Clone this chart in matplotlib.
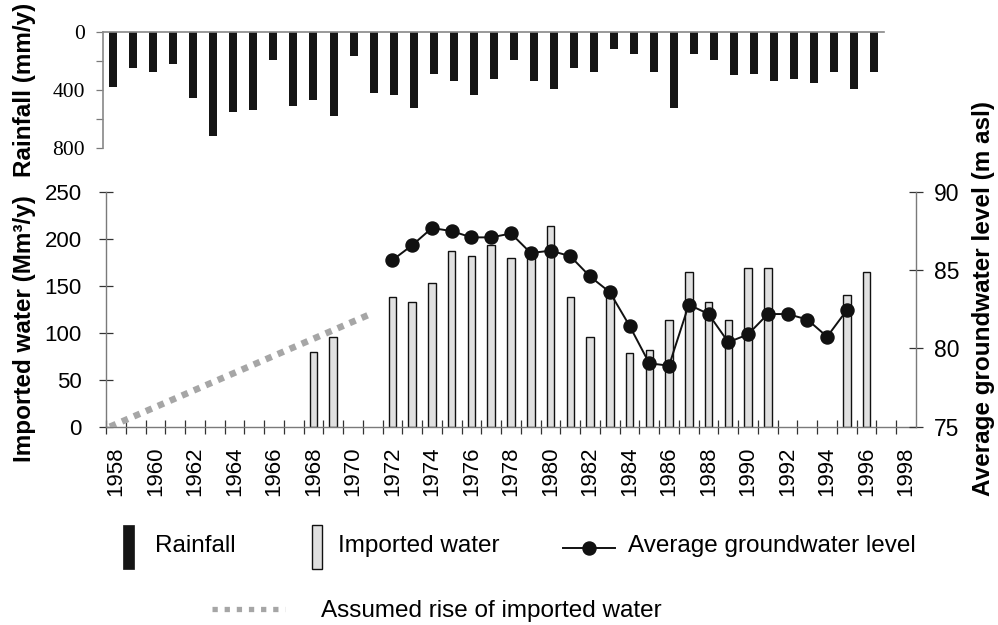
import matplotlib
matplotlib.use("Agg")
import matplotlib.pyplot as plt
from matplotlib.patches import Rectangle
from matplotlib.lines import Line2D
from matplotlib.container import BarContainer
from matplotlib.font_manager import FontProperties

# ---------------- data ----------------
rain_years = list(range(1958, 1997))
rainfall = [379, 248, 276, 221, 455, 717, 552, 538, 193, 510,
            469, 579, 166, 421, 434, 524, 290, 338, 434, 324,
            193, 338, 393, 248, 276, 117, 152, 276, 524, 152,
            193, 297, 290, 338, 324, 352, 276, 393, 276]

import_years = [1968, 1969, 1972, 1973, 1974, 1975, 1976, 1977, 1978, 1979,
                1980, 1981, 1982, 1983, 1984, 1985, 1986, 1987, 1988, 1989,
                1990, 1991, 1995, 1996]
imported = [80, 96, 138.5, 132.5, 153, 187.5, 181.5, 194, 179.5, 190,
            214, 138.5, 96, 140, 78, 81.5, 114, 165, 132.5, 114,
            169, 169, 140.5, 165]

gw_years = list(range(1972, 1996))
gw_level = [85.65, 86.6, 87.7, 87.5, 87.1, 87.1, 87.35, 86.1, 86.25, 85.9,
            84.6, 83.6, 81.45, 79.05, 78.9, 82.8, 82.2, 80.4, 80.9, 82.2,
            82.2, 81.85, 80.75, 82.45]

assumed_years = [1957.7, 1971.0]
assumed_values = [0, 121]

xtick_years = list(range(1958, 1999, 2))
imp_ticks = [0, 50, 100, 150, 200, 250]
gw_ticks = [75, 80, 85, 90]
rain_ticks = [0, 200, 400, 600, 800]
rain_ticklabels = ["0", "", "400", "", "800"]

# ---------------- style ----------------
W, H = 998, 625
SANS = "Liberation Sans"
SERIF = "Liberation Serif"
SPINE = "#7a7a7a"
TICK = "#333333"

plt.rcParams["font.family"] = [SANS, "DejaVu Sans"]

fig = plt.figure(figsize=(W / 100, H / 100), dpi=100)

def fx(px):
    return px / W

def fy(py):
    return 1 - py / H

# ---------------- lower axes ----------------
ax = fig.add_axes([fx(106), fy(426.7), fx(916) - fx(106), fy(192) - fy(426.7)])
imp_bars = ax.bar(import_years, imported, width=0.38, color="#e0e0e0",
                  edgecolor="#111111", linewidth=1.0, zorder=2)
assumed_line, = ax.plot(assumed_years, assumed_values, color="#a6a6a6", lw=4.7,
                        linestyle=(0, (1, 1)), dash_capstyle="butt",
                        solid_capstyle="butt", zorder=3)
ax.set_xlim(1957.5, 1998.5)
ax.set_ylim(0, 250)
ax.set_yticks(imp_ticks)
for s in ["top", "right"]:
    ax.spines[s].set_visible(False)
for s in ["left", "bottom"]:
    ax.spines[s].set_color(SPINE)
    ax.spines[s].set_linewidth(1.0)
ax.set_xticks(xtick_years)
ax.set_xticklabels([str(y) for y in xtick_years], rotation=90)
ax.set_xticks([y + 0.5 for y in range(1957, 1998)], minor=True)
ax.patch.set_alpha(0)

ax2 = ax.twinx()
gw_line, = ax2.plot(gw_years, gw_level, color="#111111", lw=1.4, marker="o",
                    markersize=9.4, markerfacecolor="#111111",
                    markeredgecolor="#111111", zorder=4)
ax2.set_ylim(75, 90)
ax2.set_yticks(gw_ticks)
for s in ["top", "left", "bottom"]:
    ax2.spines[s].set_visible(False)
ax2.spines["right"].set_color(SPINE)
ax2.spines["right"].set_linewidth(1.0)

# tick styling after twinning
ax.tick_params(axis="y", direction="inout", length=10, width=0.9, color=TICK,
               pad=12.3, labelsize=16, labelfontfamily=SANS)
ax.tick_params(axis="x", which="major", length=0, pad=14.4, labelsize=16,
               labelfontfamily=SANS)
ax.tick_params(axis="x", which="minor", direction="inout", length=10,
               width=0.9, color=TICK)
ax2.tick_params(axis="y", direction="inout", length=10, width=0.9, color=TICK,
                pad=8, labelsize=16.5, labelfontfamily=SANS)

# ---------------- top (rainfall) axes ----------------
axr = fig.add_axes([fx(103.3), fy(147.7), fx(884) - fx(103.3), fy(31.7) - fy(147.7)])
rain_bars = axr.bar(rain_years, rainfall, width=0.4, color="#151515", zorder=2)
axr.set_xlim(1957.5, 1996.5)
axr.set_ylim(800, 0)
axr.set_yticks(rain_ticks)
axr.set_yticklabels(rain_ticklabels)
axr.set_xticks([])
for s in ["right", "bottom"]:
    axr.spines[s].set_visible(False)
for s in ["left", "top"]:
    axr.spines[s].set_color("#888888")
    axr.spines[s].set_linewidth(1.2)
axr.tick_params(axis="y", direction="out", length=5, width=0.9, color=SPINE,
                pad=8.2, labelsize=15.5, labelfontfamily=SERIF)
axr.patch.set_alpha(0)

# ---------------- axis titles ----------------
fig.text(fx(25), fy(89.5), "Rainfall (mm/y)", rotation=90, ha="center",
         va="center", fontsize=17.5, fontweight="bold")
fig.text(fx(25), fy(328.5), "Imported water (Mm³/y)", rotation=90, ha="center",
         va="center", fontsize=17.5, fontweight="bold")
fig.text(fx(983.5), fy(298), "Average groundwater level (m asl)", rotation=90,
         ha="center", va="center", fontsize=17.5, fontweight="bold")

# ---------------- legend ----------------
class BarKey:
    def __init__(self, face, edge, lw):
        self.face, self.edge, self.lw = face, edge, lw

    def legend_artist(self, legend, orig_handle, fontsize, handlebox):
        r = Rectangle((0, -12.5), 7.7, 32.2, facecolor=self.face,
                      edgecolor=self.edge, linewidth=self.lw)
        handlebox.add_artist(r)
        return r


class LineKey:
    def __init__(self, length, y, marker, **kw):
        self.length, self.y, self.marker, self.kw = length, y, marker, kw

    def legend_artist(self, legend, orig_handle, fontsize, handlebox):
        ln = Line2D([0, self.length], [self.y, self.y], **self.kw)
        handlebox.add_artist(ln)
        if self.marker:
            mk = Line2D([self.length / 2], [self.y], linestyle="none", marker="o",
                        markersize=9.4, color="#111111")
            handlebox.add_artist(mk)
        return ln


LEG_FS = 17.5
leg_font = FontProperties(family=[SANS, "DejaVu Sans"], size=LEG_FS)
common = dict(loc="lower left", frameon=False, borderpad=0, borderaxespad=0,
              handletextpad=0, handleheight=0.7, prop=leg_font)

fig.legend([rain_bars], ["Rainfall"], handler_map={BarContainer: BarKey("#151515", "#151515", 0.5)},
           bbox_to_anchor=(fx(123.3), fy(557)), handlelength=22.8 / LEG_FS, **common)
fig.legend([imp_bars], ["Imported water"], handler_map={BarContainer: BarKey("#e0e0e0", "#111111", 1.0)},
           bbox_to_anchor=(fx(311.7), fy(557)), handlelength=19.2 / LEG_FS, **common)
fig.legend([gw_line], ["Average groundwater level"],
           handler_map={Line2D: LineKey(37.2, 3.2, True, color="#111111", lw=1.4)},
           bbox_to_anchor=(fx(563.3), fy(557)), handlelength=46.8 / LEG_FS, **common)
fig.legend([assumed_line], ["Assumed rise of imported water"],
           handler_map={Line2D: LineKey(52.8, 6.0, False, color="#a6a6a6", lw=3.8,
                                        linestyle=(0, (1, 1.3)), dash_capstyle="butt")},
           bbox_to_anchor=(fx(211.7), fy(622.5)), handlelength=78.5 / LEG_FS, **common)

fig.savefig("out.png", dpi=100)
